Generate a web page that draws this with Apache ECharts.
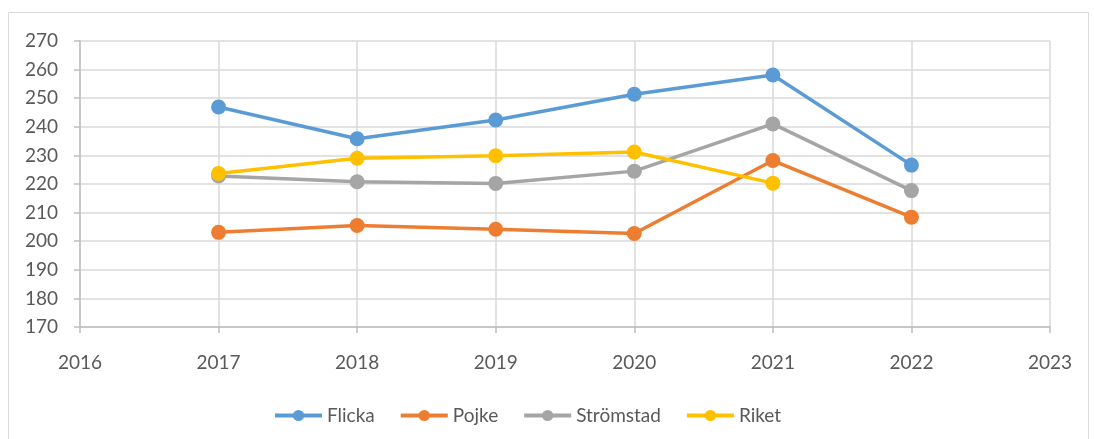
<!DOCTYPE html>
<html>
<head>
<meta charset="utf-8">
<script src="https://cdn.jsdelivr.net/npm/echarts@6/dist/echarts.min.js"></script>
<style>
html, body { margin: 0; padding: 0; background: #fff; }
#chart { width: 1094px; height: 439px; }
</style>
</head>
<body>
<div id="chart"></div>
<script>
const years = [2017, 2018, 2019, 2020, 2021, 2022]
const flicka = [246.9, 235.8, 242.4, 251.4, 258.1, 226.6]
const pojke = [203.1, 205.5, 204.2, 202.7, 228.2, 208.4]
const stromstad = [222.8, 220.8, 220.2, 224.5, 241.0, 217.7]
const riket = [223.7, 229.0, 229.9, 231.2, 220.3, null]
const yTicks = { min: 170, max: 270, step: 10 }
const xTicks = { min: 2016, max: 2023, step: 1 }

const chart = echarts.init(document.getElementById('chart'))
const pairs = vals => years.map((y, i) => [y, vals[i]]).filter(p => p[1] !== null)

function line (name, vals, color) {
  return {
    name,
    type: 'line',
    data: pairs(vals),
    symbol: 'circle',
    symbolSize: 15,
    lineStyle: { width: 3.5, color },
    itemStyle: { color },
    emphasis: { disabled: true }
  }
}

chart.setOption({
  animation: false,
  textStyle: { fontFamily: 'Lato' },
  graphic: [{
    type: 'rect',
    shape: { x: 8.5, y: 12.5, width: 1080, height: 440 },
    style: { fill: 'none', stroke: '#d9d9d9', lineWidth: 1 }
  }],
  grid: { left: 80, right: 44, top: 41, bottom: 112 },
  xAxis: {
    type: 'value',
    min: xTicks.min,
    max: xTicks.max,
    interval: xTicks.step,
    axisLine: { show: true, lineStyle: { color: '#bfbfbf', width: 1.5 } },
    axisTick: { show: true, length: 6, lineStyle: { color: '#bfbfbf', width: 1.5 } },
    axisLabel: { color: '#595959', fontSize: 19, margin: 26, formatter: v => String(v) },
    splitLine: { show: true, lineStyle: { color: '#d9d9d9', width: 1.5 } }
  },
  yAxis: {
    type: 'value',
    min: yTicks.min,
    max: yTicks.max,
    interval: yTicks.step,
    axisLine: { show: true, lineStyle: { color: '#bfbfbf', width: 1.5 } },
    axisTick: { show: true, length: 6, lineStyle: { color: '#bfbfbf', width: 1.5 } },
    axisLabel: { color: '#595959', fontSize: 19, margin: 22 },
    splitLine: { show: true, lineStyle: { color: '#d9d9d9', width: 1.5 } }
  },
  legend: {
    top: 401,
    left: 268,
    itemWidth: 47,
    itemHeight: 14,
    itemGap: 24,
    lineStyle: { width: 4 },
    textStyle: { color: '#595959', fontSize: 19 },
    data: ['Flicka', 'Pojke', 'Strömstad', 'Riket']
  },
  series: [
    line('Flicka', flicka, '#5b9bd5'),
    line('Pojke', pojke, '#ed7d31'),
    line('Strömstad', stromstad, '#a5a5a5'),
    line('Riket', riket, '#ffc000')
  ]
})
</script>
</body>
</html>
